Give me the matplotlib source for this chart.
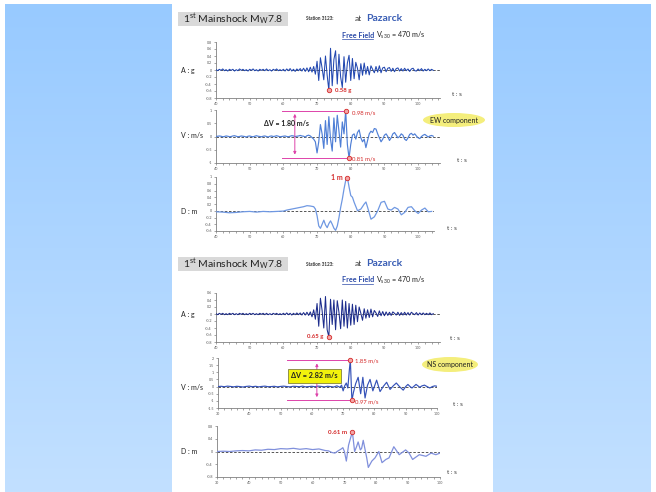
import numpy as np
import matplotlib.pyplot as plt
from matplotlib.patches import Rectangle, Ellipse
from matplotlib.colors import LinearSegmentedColormap

plt.rcParams['font.family'] = ['Lato', 'DejaVu Sans']
plt.rcParams['mathtext.fontset'] = 'custom'
plt.rcParams['mathtext.rm'] = 'Lato'
plt.rcParams['mathtext.it'] = 'Lato:italic'
plt.rcParams['mathtext.bf'] = 'Lato:bold'

# ---------------- data ----------------

# EW acceleration (g), one value every 0.5 s starting at 40 s
ew_acc = [0.01, -0.02, 0.02, -0.01, 0.03, -0.02, 0.01, -0.03, 0.02, -0.01,
          0.02, -0.03, 0.01, -0.02, 0.03, -0.01, 0.02, -0.02, 0.01, -0.03,
          0.02, -0.01, 0.03, -0.02, 0.01, -0.03, 0.02, -0.01, 0.02, -0.02,
          0.03, -0.02, 0.01, -0.03, 0.02, -0.01, 0.03, -0.02, 0.01, -0.02,
          0.02, -0.03, 0.03, -0.02, 0.04, -0.03, 0.02, -0.04, 0.03, -0.02,
          0.04, -0.03, 0.05, -0.04, 0.06, -0.05, 0.08, -0.06, 0.10, -0.12,
          0.25, -0.30, 0.35, 0.05, -0.28, 0.40, -0.15, -0.58, 0.62, -0.45,
          0.30, 0.55, -0.40, 0.45, -0.20, -0.50, 0.38, -0.35, 0.20, 0.42,
          -0.30, 0.33, -0.25, 0.22, 0.05, -0.28, 0.18, -0.15, 0.20, -0.12,
          0.10, -0.14, 0.12, 0.02, -0.08, 0.10, -0.06, 0.12, -0.08, 0.06,
          0.08, -0.05, 0.05, 0.07, -0.04, 0.05, -0.05, 0.04, 0.06, -0.03,
          0.04, -0.03, 0.05, -0.02, 0.03, -0.04, 0.03, 0.05, -0.02, -0.03,
          0.03, -0.02, 0.04, -0.03, 0.02, -0.02, 0.03, -0.02, 0.02, -0.01]

# EW velocity (m/s), same sampling
ew_vel = [0.00, 0.01, 0.02, 0.01, -0.01, 0.00, 0.02, 0.01, -0.01, 0.00,
          0.02, 0.03, 0.01, -0.01, 0.00, 0.02, 0.01, 0.00, -0.02, 0.01,
          0.02, 0.00, -0.01, 0.01, 0.03, 0.01, 0.00, -0.01, 0.01, 0.02,
          0.00, -0.02, 0.01, 0.02, 0.00, 0.01, 0.03, 0.01, -0.01, 0.00,
          0.01, 0.02, 0.00, -0.01, 0.01, 0.03, 0.02, 0.00, 0.01, 0.02,
          0.04, 0.02, 0.01, -0.02, 0.03, 0.05, 0.02, -0.04, -0.10, -0.20,
          -0.62, -0.20, 0.45, 0.10, -0.45, 0.60, -0.30, 0.75, -0.10, -0.55,
          0.70, -0.20, 0.80, 0.20, -0.40, 0.55, 0.10, 0.98, -0.30, -0.81,
          -0.30, 0.05, 0.10, -0.10, 0.15, 0.25, -0.05, -0.20, -0.10, -0.42,
          -0.15, 0.10, 0.20, 0.15, 0.30, 0.28, 0.10, -0.05, -0.20, -0.10,
          0.05, 0.10, 0.00, -0.15, -0.05, 0.10, 0.15, 0.05, -0.05, 0.00,
          0.10, 0.05, -0.10, -0.15, -0.05, 0.08, 0.12, 0.05, 0.10, 0.02,
          -0.05, -0.08, 0.00, 0.05, 0.08, 0.03, -0.02, 0.02, 0.04, 0.01]

# EW displacement (m)
ew_dis_t = [40, 42, 44, 46, 48, 50, 52, 54, 56, 58,
            60, 61, 62, 63, 64, 65, 66, 67, 68, 69,
            69.5, 70, 70.5, 71, 71.5, 72, 72.5, 73, 73.5, 74,
            74.5, 75, 75.5, 76, 76.5, 77, 77.5, 78, 78.5, 79,
            79.5, 80, 80.5, 81, 82, 83, 84, 84.5, 85, 86,
            87, 88, 89, 90, 91, 92, 93, 94, 95, 96,
            97, 98, 99, 100, 101, 102, 103, 104]
ew_dis = [-0.03, -0.04, -0.06, -0.05, -0.03, -0.02, -0.04, -0.02, -0.03, -0.02,
          -0.01, 0.02, 0.04, 0.06, 0.08, 0.10, 0.12, 0.15, 0.14, 0.12,
          0.05, -0.15, -0.45, -0.52, -0.40, -0.28, -0.42, -0.50, -0.38, -0.30,
          -0.40, -0.52, -0.58, -0.45, -0.20, 0.10, 0.35, 0.65, 0.90, 0.98,
          0.70, 0.45, 0.40, 0.25, 0.00, 0.05, 0.20, 0.26, 0.10, -0.25,
          -0.18, 0.00, 0.25, 0.28, 0.05, 0.02, 0.10, 0.05, -0.12, -0.05,
          0.10, 0.12, 0.00, -0.08, 0.02, 0.08, -0.03, -0.02]

# NS acceleration (g), every 0.5 s starting at 40 s
ns_acc = [0.01, -0.02, 0.02, -0.01, 0.02, -0.02, 0.01, -0.02, 0.02, -0.01,
          0.02, -0.02, 0.01, -0.02, 0.02, -0.01, 0.02, -0.02, 0.01, -0.02,
          0.02, -0.01, 0.02, -0.02, 0.01, -0.02, 0.02, -0.01, 0.02, -0.02,
          0.02, -0.02, 0.01, -0.02, 0.02, -0.01, 0.02, -0.02, 0.01, -0.02,
          0.02, -0.02, 0.03, -0.02, 0.02, -0.03, 0.02, -0.02, 0.03, -0.02,
          0.03, -0.03, 0.04, -0.03, 0.05, -0.04, 0.06, -0.08, 0.12, -0.15,
          0.30, -0.35, 0.45, 0.10, -0.40, 0.50, -0.45, -0.65, 0.42, -0.30,
          0.40, -0.45, 0.38, 0.05, -0.42, 0.40, -0.35, 0.36, -0.40, 0.30,
          -0.32, 0.28, -0.30, 0.25, -0.22, 0.20, 0.02, -0.18, 0.15, -0.12,
          0.12, -0.10, 0.14, -0.08, 0.10, 0.03, -0.07, 0.09, -0.05, 0.07,
          -0.05, 0.06, -0.04, 0.05, -0.04, 0.06, 0.02, -0.03, 0.05, -0.04,
          0.04, -0.03, 0.05, -0.03, 0.04, -0.03, 0.05, 0.01, -0.02, 0.04,
          -0.03, 0.03, -0.02, 0.03, -0.02, 0.02, -0.02, 0.03, -0.02, 0.01]

# NS velocity (m/s): one value per second up to 67 s, then the picked points
ns_vel_t = list(range(30, 68)) + [
    68, 69, 69.5, 70, 70.5, 71, 71.5, 72, 72.3, 72.8,
    73.3, 74, 74.8, 75.6, 76.3, 77, 77.8, 78.6, 79.5, 80.7,
    81.8, 82.8, 83.9, 85, 86, 87, 88, 89.2, 90, 90.7,
    91.3, 92, 93.3, 94.5, 95.2, 96, 97, 97.7, 98.5, 99.3, 100]
ns_vel = [0.00, 0.02, -0.01, 0.03, 0.01, -0.02, 0.02, 0.00, -0.03, 0.01,
          0.03, -0.01, 0.02, -0.02, 0.01, 0.03, -0.01, 0.00, 0.02, -0.02,
          0.01, 0.03, 0.00, -0.02, 0.02, 0.01, -0.01, 0.03, -0.02, 0.00,
          0.02, -0.01, 0.03, 0.01, -0.02, 0.02, 0.00, -0.03,
          0.05, -0.05, 0.10, -0.30, 0.05, 0.25, -0.10, 1.20, 1.85, -0.97,
          -0.40, 0.20, 0.65, -0.50, 0.65, -0.80, 0.10, 0.50, -0.30, 0.45,
          -0.35, 0.00, 0.30, -0.20, 0.05, 0.25, 0.00, -0.25, 0.00, 0.15,
          0.02, -0.10, 0.15, -0.05, 0.05, 0.10, -0.02, -0.10, 0.00, 0.05, 0.02]

# NS displacement (m)
ns_dis_t = [30, 32, 34, 36, 38, 40, 42, 44, 46, 48,
            50, 52, 54, 56, 58, 60, 62, 64, 65, 66,
            67, 68, 69, 69.5, 70, 70.6, 71.3, 72, 72.5, 73.2,
            73.8, 74.3, 75, 75.4, 75.9, 76.5, 77, 77.5, 78.6, 79.6,
            80.8, 81.8, 83, 84, 85.5, 87.2, 89.2, 90.3, 91.4, 93.5,
            95.6, 97.2, 98.7, 100]
ns_dis = [0.00, 0.01, 0.00, 0.02, 0.03, 0.02, 0.05, 0.04, 0.07, 0.06,
          0.09, 0.08, 0.10, 0.07, 0.09, 0.06, 0.08, 0.03, 0.02, -0.03,
          -0.05, 0.02, 0.08, 0.12, 0.00, -0.30, 0.20, 0.45, 0.61, 0.00,
          0.15, 0.30, 0.05, 0.10, 0.35, 0.05, -0.20, -0.50, -0.30, -0.20,
          0.00, -0.35, -0.25, -0.20, 0.15, -0.10, 0.05, -0.05, -0.25, -0.10,
          -0.15, -0.05, -0.10, -0.05]

ew_acc_t = 40 + 0.5 * np.arange(len(ew_acc))
ew_vel_t = 40 + 0.5 * np.arange(len(ew_vel))
ns_acc_t = 40 + 0.5 * np.arange(len(ns_acc))

# ---------------- figure ----------------
W, H = 656, 492
fig = plt.figure(figsize=(W / 100, H / 100), dpi=100)
fig.patch.set_facecolor('white')


def rect(x0, y0, x1, y1):
    return [x0 / W, 1 - y1 / H, (x1 - x0) / W, (y1 - y0) / H]


# slide background: blue gradient on both sides
bg = fig.add_axes([0, 0, 1, 1], zorder=-5)
grad_cm = LinearSegmentedColormap.from_list('side', ['#98caff', '#c2e0ff'])
grad = np.linspace(0, 1, 256)[:, None]
bg.imshow(grad, extent=(5, 172, 492, 4), cmap=grad_cm, aspect='auto')
bg.imshow(grad, extent=(493, 651, 492, 4), cmap=grad_cm, aspect='auto')
bg.set_xlim(0, W)
bg.set_ylim(H, 0)
bg.axis('off')

RED = '#d42a2a'
MAG = '#dd44aa'


def trace(box, t, v, xlim, ylim, yticks, color, lw):
    ax = fig.add_axes(rect(*box))
    ax.patch.set_alpha(0)
    ax.axhline(0, color='#3a3a3a', lw=0.6, ls=(0, (3, 2)), zorder=2)
    ax.plot(t, v, color=color, lw=lw, zorder=3)
    ax.set_xlim(*xlim)
    ax.set_ylim(*ylim)
    major = np.arange(np.ceil(xlim[0] / 10) * 10, xlim[1] + 0.1, 10)
    minor = np.arange(xlim[0], xlim[1] + 0.1, 2)
    ax.set_xticks(major)
    ax.set_xticklabels([f'{m:g}' for m in major])
    ax.set_xticks(minor, minor=True)
    ax.set_yticks(yticks)
    ax.set_yticklabels([f'{y:g}' for y in yticks])
    for s in ['top', 'right']:
        ax.spines[s].set_visible(False)
    for s in ['left', 'bottom']:
        ax.spines[s].set_color('#808080')
        ax.spines[s].set_linewidth(0.6)
    ax.tick_params(which='both', length=1.5, width=0.5, color='#808080',
                   labelsize=2.6, pad=1.5, labelcolor='#555555')
    return ax


# ---- EW component ----
ax = trace((216, 42, 440, 98), ew_acc_t, ew_acc, (40, 106.5), (-0.8, 0.8),
           [0.8, 0.6, 0.4, 0.2, 0, -0.2, -0.4, -0.6, -0.8], '#2147b0', 0.75)
ax.plot(73.5, -0.58, 'o', ms=3.2, mfc='#f3a5a5', mec=RED, mew=0.6, zorder=5)
ax.text(75.2, -0.58, '0.58 g', color=RED, fontsize=4.3, fontweight='bold', va='center')

ax = trace((216, 110, 440, 163), ew_vel_t, ew_vel, (40, 106.5), (-1, 1),
           [1, 0.5, 0, -0.5, -1], '#4f7fd6', 0.85)
ax.plot([59.6, 78.5], [0.98, 0.98], color=MAG, lw=0.7, clip_on=False)
ax.plot([59.6, 79.5], [-0.81, -0.81], color=MAG, lw=0.7, clip_on=False)
ax.annotate('', xy=(63.4, 0.96), xytext=(63.4, -0.79),
            arrowprops=dict(arrowstyle='<|-|>', color=MAG, lw=0.7, mutation_scale=4))
ax.text(60.8, 0.49, 'ΔV = 1.80 m/s', fontsize=5, fontweight='bold', color='#222222',
        ha='center', va='center', zorder=6)
ax.plot([78.5, 79.5], [0.98, -0.81], 'o', ms=3.2, mfc='#f3a5a5', mec=RED, mew=0.6,
        ls='none', zorder=5, clip_on=False)
ax.text(80.3, 0.88, '0.98 m/s', color=RED, fontsize=4.3, va='center')
ax.text(80.3, -0.86, '0.81 m/s', color=RED, fontsize=4.3, va='center')

ax = trace((216, 177, 434, 231), ew_dis_t, ew_dis, (40, 104.7), (-0.6, 1),
           [1, 0.8, 0.6, 0.4, 0.2, 0, -0.2, -0.4, -0.6], '#6f98e2', 0.9)
ax.plot(79, 0.98, 'o', ms=3.2, mfc='#f3a5a5', mec=RED, mew=0.6, zorder=5, clip_on=False)
ax.text(77.6, 0.98, '1 m', color=RED, fontsize=5, fontweight='bold', ha='right', va='center')

# ---- NS component ----
ax = trace((216, 293, 440, 342), ns_acc_t, ns_acc, (40, 106.5), (-0.8, 0.6),
           [0.6, 0.4, 0.2, 0, -0.2, -0.4, -0.6, -0.8], '#1c2c8c', 0.75)
ax.plot(73.5, -0.65, 'o', ms=3.2, mfc='#f3a5a5', mec=RED, mew=0.6, zorder=5)
ax.text(71.8, -0.65, '0.65 g', color=RED, fontsize=4.3, fontweight='bold',
        ha='right', va='center')

ax = trace((218, 358, 437, 408), ns_vel_t, ns_vel, (30, 100), (-1.5, 2),
           [2, 1.5, 1, 0.5, 0, -0.5, -1, -1.5], '#3552b8', 0.85)
ax.plot([52, 72.3], [1.85, 1.85], color=MAG, lw=0.7)
ax.plot([52, 72.8], [-0.97, -0.97], color=MAG, lw=0.7)
ax.annotate('', xy=(61.6, 1.82), xytext=(61.6, -0.94),
            arrowprops=dict(arrowstyle='<|-|>', color=MAG, lw=0.7, mutation_scale=4))
ax.text(60.8, 0.74, 'ΔV = 2.82 m/s', fontsize=5.2, fontweight='bold', color='#222222',
        ha='center', va='center', zorder=6,
        bbox=dict(boxstyle='square,pad=0.45', fc='#f2f20c', ec='#6a6a2a', lw=0.5))
ax.plot([72.3, 72.8], [1.85, -0.97], 'o', ms=3.2, mfc='#f3a5a5', mec=RED, mew=0.6,
        ls='none', zorder=5, clip_on=False)
ax.text(73.8, 1.82, '1.85 m/s', color=RED, fontsize=4.3, va='center')
ax.text(73.8, -1.05, '0.97 m/s', color=RED, fontsize=4.3, va='center')

ax = trace((217, 426, 440, 477), ns_dis_t, ns_dis, (30, 100), (-0.8, 0.8),
           [0.8, 0.4, 0, -0.4, -0.8], '#8090dc', 0.9)
ax.plot(72.5, 0.61, 'o', ms=3.2, mfc='#f3a5a5', mec=RED, mew=0.6, zorder=5)
ax.text(70.8, 0.61, '0.61 m', color=RED, fontsize=4.5, fontweight='bold',
        ha='right', va='center')

# ---------------- slide text overlay (pixel coordinates) ----------------
ov = fig.add_axes([0, 0, 1, 1], zorder=10)
ov.set_xlim(0, W)
ov.set_ylim(H, 0)
ov.axis('off')

for dy in (0, 245):
    ov.add_patch(Rectangle((178, 12 + dy), 110, 14, fc='#d9d9d9', ec='none'))
    ov.text(183, 19.5 + dy, r'1$^{\mathrm{st}}$ Mainshock M$_{\mathrm{W}}$7.8',
            fontsize=7.5, color='#222222', va='center')
    ov.text(306, 19 + dy, 'Station 3123:', fontsize=3.3, fontweight='bold',
            color='#333333', va='center')
    ov.text(355, 18.5 + dy, 'at', fontsize=6, color='#333333', va='center')
    ov.text(366, 18.5 + dy, 'Pazarck', fontsize=7.5, fontweight='bold',
            color='#3a5eb5', va='center')
    ov.text(342, 35 + dy, 'Free Field', fontsize=5.2, fontweight='bold',
            color='#2b4aa8', va='center')
    ov.plot([342, 373], [38.5 + dy, 38.5 + dy], color='#2b4aa8', lw=0.5)
    ov.text(376, 35 + dy, r'V$_{\mathrm{s30}}$ = 470 m/s', fontsize=5.2,
            color='#222222', va='center')

labels = [('A : g', 70), ('V : m/s', 136), ('D : m', 211),
          ('A : g', 314), ('V : m/s', 387), ('D : m', 451)]
for txt, y in labels:
    ov.text(181, y, txt, fontsize=5, color='#222222', va='center')

ts_pos = [(452, 95), (457, 161), (447, 228), (450, 339), (453, 405), (447, 472)]
for x, y in ts_pos:
    ov.text(x, y, 't : s', fontsize=4.5, color='#333333', va='center')

ov.add_patch(Ellipse((454, 120), 62, 14, fc='#f4ee7c', ec='none'))
ov.text(454, 120, 'EW component', fontsize=5, color='#222222', ha='center', va='center')
ov.add_patch(Ellipse((450, 364.5), 56, 15, fc='#f4ee7c', ec='none'))
ov.text(450, 364.5, 'NS component', fontsize=5, color='#222222', ha='center', va='center')

fig.savefig('out.png', dpi=100)
